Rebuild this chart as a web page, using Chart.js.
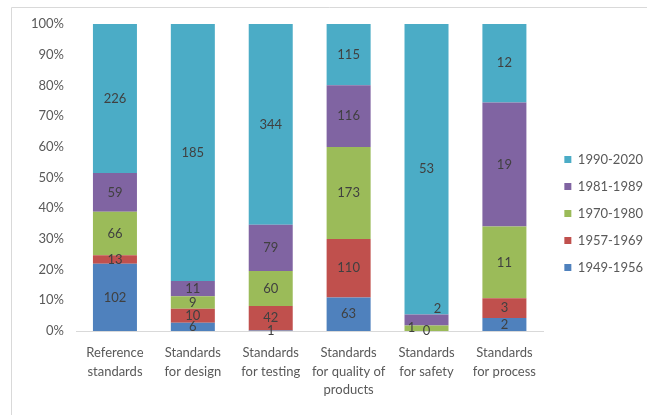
<!DOCTYPE html>
<html>
<head>
<meta charset="utf-8">
<script src="https://cdn.jsdelivr.net/npm/chart.js@4/dist/chart.umd.min.js"></script>
<style>
  html, body { margin: 0; padding: 0; background: #fff; }
  #wrap { width: 647px; height: 415px; }
</style>
</head>
<body>
<div id="wrap"><canvas id="chart" width="647" height="415"></canvas></div>
<script>
// categories (x axis)
const categories = [
  ['Reference', 'standards'],
  ['Standards', 'for design'],
  ['Standards', 'for testing'],
  ['Standards', 'for quality of', 'products'],
  ['Standards', 'for safety'],
  ['Standards', 'for process']
];

// counts per period
const s1949 = [102, 6, 1, 63, null, 2];
const s1957 = [13, 10, 42, 110, 0, 3];
const s1970 = [66, 9, 60, 173, 1, 11];
const s1981 = [59, 11, 79, 116, 2, 19];
const s1990 = [226, 185, 344, 115, 53, 12];

const seriesNames = ['1949-1956', '1957-1969', '1970-1980', '1981-1989', '1990-2020'];
const seriesValues = [s1949, s1957, s1970, s1981, s1990];
const seriesColors = ['#4F81BD', '#C0504D', '#9BBB59', '#8064A2', '#4BACC6'];

const yTicks = [0, 10, 20, 30, 40, 50, 60, 70, 80, 90, 100];

// totals per category, so each bar is 100%
const totals = categories.map((c, i) =>
  seriesValues.reduce((sum, s) => sum + (s[i] || 0), 0));

const FONT = 'Lato';

// small offsets for the crowded labels on the safety bar
const nudges = { '4-2': [-15, 0], '4-3': [11, -11] };

const valueLabels = {
  id: 'valueLabels',
  afterDatasetsDraw(chart) {
    const ctx = chart.ctx;
    ctx.save();
    ctx.font = '13px ' + FONT;
    ctx.fillStyle = '#404040';
    ctx.textAlign = 'center';
    ctx.textBaseline = 'middle';
    chart.data.datasets.forEach((ds, di) => {
      chart.getDatasetMeta(di).data.forEach((bar, i) => {
        const v = seriesValues[di][i];
        if (v === null) return;
        const off = nudges[i + '-' + di] || [0, 0];
        ctx.fillText(String(v), bar.x + off[0], (bar.y + bar.base) / 2 + off[1]);
      });
    });
    ctx.restore();
  }
};

// light frame on the top and left edges
const frame = {
  id: 'frame',
  beforeDraw(chart) {
    const ctx = chart.ctx;
    ctx.save();
    ctx.strokeStyle = '#d9d9d9';
    ctx.lineWidth = 1;
    ctx.beginPath();
    ctx.moveTo(11.5, 415);
    ctx.lineTo(11.5, 7.5);
    ctx.lineTo(647, 7.5);
    ctx.stroke();
    ctx.restore();
  }
};

// move the legend a bit to sit where the original is
const legendShift = {
  id: 'legendShift',
  afterLayout(chart) {
    const lg = chart.legend;
    lg.left += 7; lg.right += 7;
    lg.top -= 6; lg.bottom -= 6;
  }
};

const ctx = document.getElementById('chart').getContext('2d');
new Chart(ctx, {
  type: 'bar',
  data: {
    labels: categories,
    datasets: seriesNames.map((name, k) => ({
      label: name,
      data: seriesValues[k].map((v, i) => v === null ? null : v / totals[i] * 100),
      backgroundColor: seriesColors[k],
      borderWidth: 0,
      barPercentage: 0.565,
      categoryPercentage: 1
    }))
  },
  options: {
    responsive: false,
    animation: false,
    layout: {
      padding: { top: 24, left: 0, right: 1, bottom: 0 }
    },
    plugins: {
      tooltip: { enabled: false },
      legend: {
        position: 'right',
        reverse: true,
        labels: {
          boxWidth: 7,
          boxHeight: 7,
          padding: 14,
          color: '#595959',
          font: { family: FONT, size: 13 }
        }
      }
    },
    scales: {
      x: {
        stacked: true,
        grid: { display: false, drawTicks: false },
        border: { display: true, color: '#d9d9d9', width: 1 },
        ticks: {
          color: '#595959',
          padding: 13,
          maxRotation: 0,
          autoSkip: false,
          font: { family: FONT, size: 13, lineHeight: 1.42 }
        },
        afterFit(s) { s.height = 84; }
      },
      y: {
        stacked: true,
        min: 0,
        max: 100,
        grid: { display: false, drawTicks: false },
        border: { display: false },
        afterBuildTicks(s) { s.ticks = yTicks.map(v => ({ value: v })); },
        ticks: {
          color: '#595959',
          padding: 12,
          font: { family: FONT, size: 13 },
          callback: v => v + '%'
        },
        afterFit(s) { s.width = 76; }
      }
    }
  },
  plugins: [valueLabels, frame, legendShift]
});
</script>
</body>
</html>
